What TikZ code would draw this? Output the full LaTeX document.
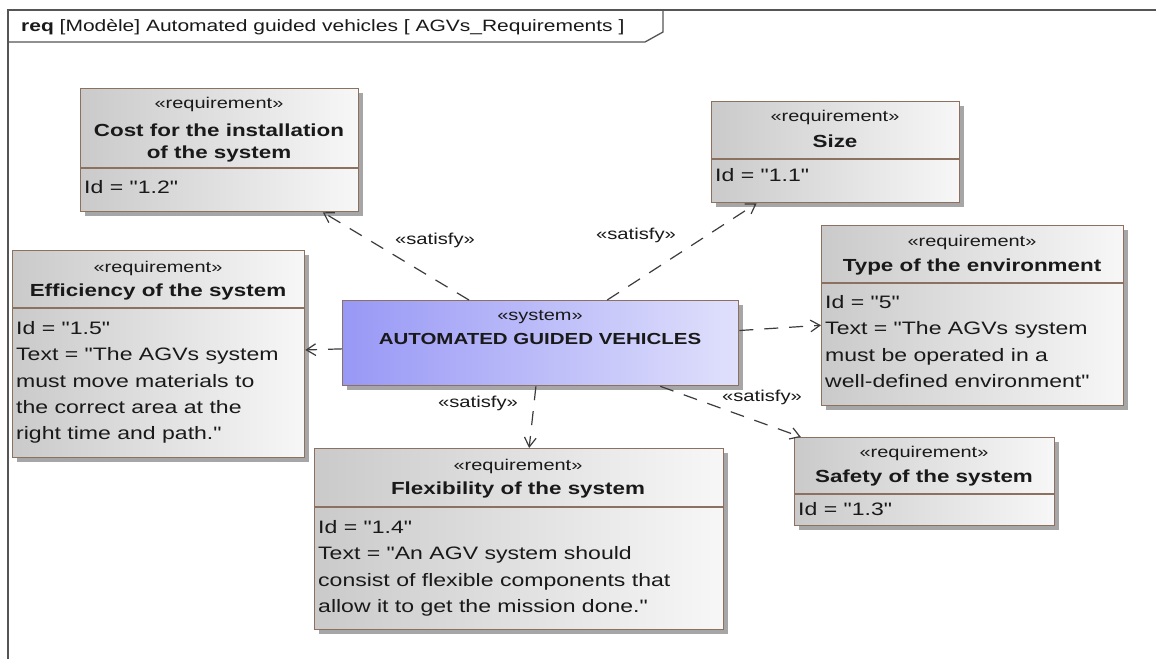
\documentclass[tikz,border=0pt]{standalone}
\usepackage{fontspec}
\setmainfont{Liberation Sans}[FakeStretch=1.28, Ligatures=TeXOff]
\usetikzlibrary{arrows.meta,shadows}
\definecolor{brd}{RGB}{140,112,96}
\definecolor{reqL}{RGB}{202,202,202}
\definecolor{reqR}{RGB}{247,247,247}
\definecolor{sysL}{RGB}{152,152,246}
\definecolor{sysR}{RGB}{224,224,252}
\definecolor{frm}{RGB}{85,85,85}
\definecolor{lnk}{RGB}{60,60,60}
\definecolor{txt}{RGB}{25,25,25}
\begin{document}
\begin{tikzpicture}[x=1pt,y=-1pt,
  reqbox/.style={draw=brd, line width=1.3pt, rectangle, inner sep=0pt, anchor=north west,
    left color=reqL, right color=reqR,
    drop shadow={shadow xshift=4pt, shadow yshift=-4pt, fill=black!35, opacity=1}},
  sysbox/.style={reqbox, left color=sysL, right color=sysR},
  divline/.style={draw=brd, line width=1.3pt},
  stereo/.style={inner sep=0pt, text=txt, font=\fontsize{15.6}{18}\selectfont},
  rname/.style={inner sep=0pt, text=txt, align=center, text height=13pt, text depth=3.5pt, font=\fontsize{17.5}{22}\selectfont\bfseries},
  rname2/.style={inner sep=0pt, text=txt, align=center, anchor=north, font=\fontsize{17.5}{22}\selectfont\bfseries},
  body/.style={inner sep=0pt, text=txt, align=left, anchor=north west, font=\fontsize{18}{26.2}\selectfont},
  sat/.style={draw=lnk, line width=1.2pt, dash pattern=on 14pt off 11pt, -{Straight Barb[angle=64:11pt]}},
  lbl/.style={inner sep=0pt, text=txt, font=\fontsize{15.8}{18}\selectfont},
  frame/.style={draw=frm, line width=1.3pt}]
\useasboundingbox (0,0) rectangle (1156,659);
\fill[white] (0,0) rectangle (1156,659);

% frame
\draw[frame] (8,659) -- (8,10) -- (1156,10);
\draw[frame] (8,42) -- (645,42) -- (663,32) -- (663,10);
\node[anchor=west, inner sep=0pt, text=txt, font=\fontsize{16.4}{18}\selectfont] (title) at (21,27)
  {\textbf{req} [Modèle] Automated guided vehicles [ AGVs\_Requirements ]};

% Cost
\node[reqbox, minimum width=278pt, minimum height=123pt] (cost) at (80,88) {};
\draw[divline] (80,168) -- (358,168);
\node[stereo] (costS) at (219,104) {«requirement»};
\node[rname2] (costN) at (219,123.5) {Cost for the installation\\of the system};
\node[body] (costB) at (84,180.5) {Id = "1.2"};

% Size
\node[reqbox, minimum width=248pt, minimum height=101pt] (size) at (711,101) {};
\draw[divline] (711,159) -- (959,159);
\node[stereo] (sizeS) at (835,117) {«requirement»};
\node[rname] (sizeN) at (835,143) {Size};
\node[body] (sizeB) at (715,168.5) {Id = "1.1"};

% Efficiency
\node[reqbox, minimum width=292pt, minimum height=207pt] (eff) at (12,250) {};
\draw[divline] (12,308) -- (304,308);
\node[stereo] (effS) at (158,268) {«requirement»};
\node[rname] (effN) at (158,292) {Efficiency of the system};
\node[body] (effB) at (16,321.5) {Id = "1.5"\\Text = "The AGVs system\\must move materials to\\the correct area at the\\right time and path."};

% Type of the environment
\node[reqbox, minimum width=302pt, minimum height=180pt] (env) at (821,225) {};
\draw[divline] (821,283) -- (1123,283);
\node[stereo] (envS) at (972,242) {«requirement»};
\node[rname] (envN) at (972,267) {Type of the environment};
\node[body] (envB) at (825,295.5) {Id = "5"\\Text = "The AGVs system\\must be operated in a\\well-defined environment"};

% Safety
\node[reqbox, minimum width=260pt, minimum height=88pt] (safe) at (794,437) {};
\draw[divline] (794,494) -- (1054,494);
\node[stereo] (safeS) at (924,453) {«requirement»};
\node[rname] (safeN) at (924,478) {Safety of the system};
\node[body] (safeB) at (798,502) {Id = "1.3"};

% Flexibility
\node[reqbox, minimum width=409pt, minimum height=181pt] (flex) at (314,448) {};
\draw[divline] (314,507) -- (723,507);
\node[stereo] (flexS) at (518,466) {«requirement»};
\node[rname] (flexN) at (518,490) {Flexibility of the system};
\node[body] (flexB) at (318,520.5) {Id = "1.4"\\Text = "An AGV system should\\consist of flexible components that\\allow it to get the mission done."};

% System
\node[sysbox, minimum width=396pt, minimum height=85pt] (sys) at (342,300) {};
\node[stereo] (sysS) at (540,317) {«system»};
\node[rname, font=\fontsize{16}{20}\selectfont\bfseries] (sysN) at (540,340) {AUTOMATED GUIDED VEHICLES};

% connectors
\draw[sat] (sys) -- (cost);
\draw[sat] (sys) -- (size);
\draw[sat] (sys) -- (eff);
\draw[sat] (sys) -- (env);
\draw[sat] (sys) -- (safe);
\draw[sat] (sys) -- (flex);

\node[lbl] (l1) at (435,240) {«satisfy»};
\node[lbl] (l2) at (636,235) {«satisfy»};
\node[lbl] (l3) at (762,397) {«satisfy»};
\node[lbl] (l4) at (478,403) {«satisfy»};
\end{tikzpicture}
\end{document}
